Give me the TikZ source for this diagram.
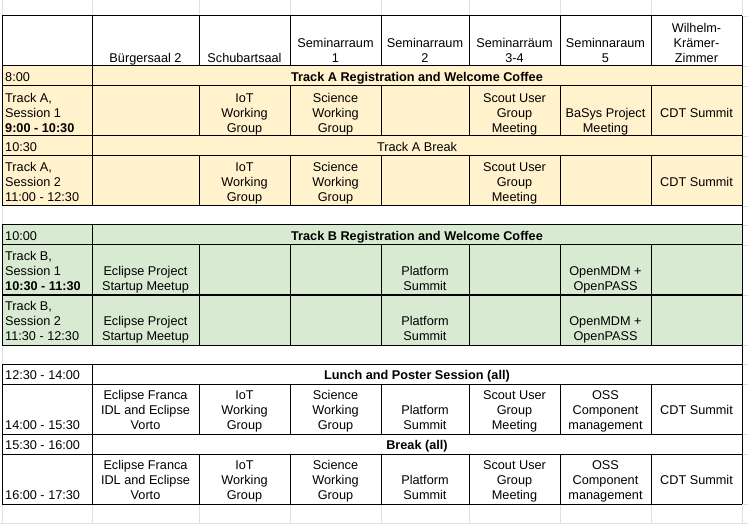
\documentclass[tikz,border=0pt]{standalone}
\usepackage{fontspec}
\setmainfont{Liberation Sans}
\definecolor{ylw}{HTML}{FFF2CC}
\definecolor{grn}{HTML}{D9EAD3}
\definecolor{gridgray}{HTML}{E0E0E0}
\newcommand\cellfont{\fontsize{12.7}{15}\selectfont}
\begin{document}
\begin{tikzpicture}[x=1pt,y=-1pt,
  cell/.style={font=\cellfont,align=center,anchor=base,inner sep=0pt,yshift=-0.8pt},
  lcell/.style={font=\cellfont,align=left,anchor=base west,inner sep=0pt,yshift=-0.8pt},
  bcell/.style={cell,font=\cellfont\bfseries},
  bline/.style={line width=1pt,black},
  gline/.style={line width=0.8pt,gridgray}]
\useasboundingbox (0,0) rectangle (748,524);
\fill[white] (0,0) rectangle (748,524);
% spreadsheet grid
\foreach \x in {2,92,199,290,381,469,560,651,742} {
  \draw[gline] (\x,0) -- (\x,16);
  \draw[gline] (\x,504) -- (\x,524);
}
\draw[gline] (2,0) -- (2,524);
\draw[gline] (0,523) -- (748,523);
\foreach \y in {16,66,86,136,156,206,225,245,295,345,364,384,434,454,504}
  \draw[gline] (742,\y) -- (748,\y);
% fills
\fill[ylw] (2,66) rectangle (742,206);
\fill[grn] (2,225) rectangle (742,345);
% borders
\foreach \y in {16,66,86,136,156,206,225,245,295,345,364,384,434,454,504}
  \draw[bline] (2,\y) -- (742,\y);
\foreach \a/\b in {16/206,225/345,364/504} {
  \draw[bline] (2,\a) -- (2,\b);
  \draw[bline] (92,\a) -- (92,\b);
}
\draw[bline] (742,16) -- (742,504);
\foreach \a/\b in {16/66,86/136,156/206,245/345,384/434,454/504}
  \foreach \x in {199,290,381,469,560,651}
    \draw[bline] (\x,\a) -- (\x,\b);
% header
\node[cell] (h2) at (145.5,61.5) {Bürgersaal 2};
\node[cell] (h3) at (244.5,61.5) {Schubartsaal};
\node[cell] (h4) at (335.5,61.5) {Seminarraum\\1};
\node[cell] (h5) at (425,61.5) {Seminarraum\\2};
\node[cell] (h6) at (514.5,61.5) {Seminarräum\\3-4};
\node[cell] (h7) at (605.5,61.5) {Seminnaraum\\5};
\node[cell] (h8) at (696.5,61.5) {Wilhelm-\\Krämer-\\Zimmer};
% Track A
\node[lcell] (t1) at (5,80.5) {8:00};
\node[bcell] (r1) at (417,80.5) {Track A Registration and Welcome Coffee};
\node[lcell] (t2) at (5,131.5) {Track A,\\Session 1\\\textbf{9:00 - 10:30}};
\node[cell] (a13) at (244.5,131.5) {IoT\\Working\\Group};
\node[cell] (a14) at (335.5,131.5) {Science\\Working\\Group};
\node[cell] (a16) at (514.5,131.5) {Scout User\\Group\\Meeting};
\node[cell] (a17) at (605.5,131.5) {BaSys Project\\Meeting};
\node[cell] (a18) at (696.5,116.5) {CDT Summit};
\node[lcell] (t3) at (5,150.5) {10:30};
\node[cell] (r2) at (417,150.5) {Track A Break};
\node[lcell] (t4) at (5,200.5) {Track A,\\Session 2\\11:00 - 12:30};
\node[cell] (a23) at (244.5,200.5) {IoT\\Working\\Group};
\node[cell] (a24) at (335.5,200.5) {Science\\Working\\Group};
\node[cell] (a26) at (514.5,200.5) {Scout User\\Group\\Meeting};
\node[cell] (a28) at (696.5,185.5) {CDT Summit};
% Track B
\node[lcell] (t5) at (5,239.5) {10:00};
\node[bcell] (r3) at (417,239.5) {Track B Registration and Welcome Coffee};
\node[lcell] (t6) at (5,289.5) {Track B,\\Session 1\\\textbf{10:30 - 11:30}};
\node[cell] (b12) at (145.5,289.5) {Eclipse Project\\Startup Meetup};
\node[cell] (b15) at (425,289.5) {Platform\\Summit};
\node[cell] (b17) at (605.5,289.5) {OpenMDM +\\OpenPASS};
\node[lcell] (t7) at (5,339.5) {Track B,\\Session 2\\11:30 - 12:30};
\node[cell] (b22) at (145.5,339.5) {Eclipse Project\\Startup Meetup};
\node[cell] (b25) at (425,339.5) {Platform\\Summit};
\node[cell] (b27) at (605.5,339.5) {OpenMDM +\\OpenPASS};
% afternoon
\node[lcell] (t8) at (5,378.5) {12:30 - 14:00};
\node[bcell] (r4) at (417,378.5) {Lunch and Poster Session (all)};
\node[lcell] (t9) at (5,428.5) {14:00 - 15:30};
\node[cell] (c12) at (145.5,428.5) {Eclipse Franca\\IDL and Eclipse\\Vorto};
\node[cell] (c13) at (244.5,428.5) {IoT\\Working\\Group};
\node[cell] (c14) at (335.5,428.5) {Science\\Working\\Group};
\node[cell] (c15) at (425,428.5) {Platform\\Summit};
\node[cell] (c16) at (514.5,428.5) {Scout User\\Group\\Meeting};
\node[cell] (c17) at (605.5,428.5) {OSS\\Component\\management};
\node[cell] (c18) at (696.5,413.5) {CDT Summit};
\node[lcell] (t10) at (5,448.5) {15:30 - 16:00};
\node[bcell] (r5) at (417,448.5) {Break (all)};
\node[lcell] (t11) at (5,498.5) {16:00 - 17:30};
\node[cell] (c22) at (145.5,498.5) {Eclipse Franca\\IDL and Eclipse\\Vorto};
\node[cell] (c23) at (244.5,498.5) {IoT\\Working\\Group};
\node[cell] (c24) at (335.5,498.5) {Science\\Working\\Group};
\node[cell] (c25) at (425,498.5) {Platform\\Summit};
\node[cell] (c26) at (514.5,498.5) {Scout User\\Group\\Meeting};
\node[cell] (c27) at (605.5,498.5) {OSS\\Component\\management};
\node[cell] (c28) at (696.5,483.5) {CDT Summit};
\end{tikzpicture}
\end{document}
